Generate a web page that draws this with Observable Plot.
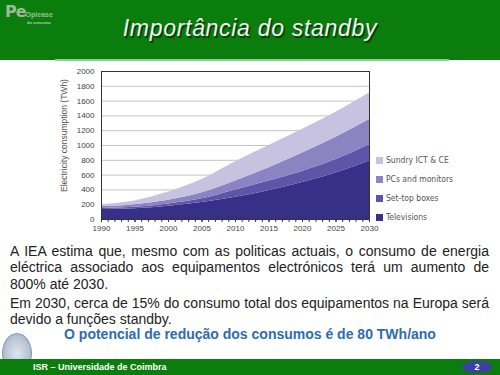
<!DOCTYPE html>
<html><head><meta charset="utf-8">
<script src="https://cdn.jsdelivr.net/npm/d3@7"></script>
<script src="https://cdn.jsdelivr.net/npm/@observablehq/plot@0.6"></script>
<style>
html,body{margin:0;padding:0;}
body{width:500px;height:375px;position:relative;overflow:hidden;background:#fff;font-family:"Liberation Sans",Arial,sans-serif;}
#header{position:absolute;left:0;top:0;width:500px;height:60px;background:#0a7d0c;}
#hline{position:absolute;left:55px;top:59px;width:394px;height:2px;background:#8fcf8f;}
#logo{position:absolute;left:5px;top:4px;color:#9dbb9b;font-weight:bold;line-height:1;}
#logo .big{font-size:16px;font-family:"DejaVu Sans",sans-serif;letter-spacing:-1px;}
#logo .small{font-size:7px;font-family:"Liberation Sans Narrow",sans-serif;}
#logo .tiny{position:absolute;left:22px;top:17px;font-size:4px;color:#b8ceb8;white-space:nowrap;}
#title{position:absolute;left:0;width:500px;top:15px;text-align:center;font-size:23px;font-style:italic;color:#f3f3f3;letter-spacing:0.7px;text-shadow:1.5px 1.5px 1px rgba(0,0,0,0.55);white-space:nowrap;}
#chart{position:absolute;left:55px;top:61px;}
#legend{position:absolute;left:376px;top:0;font-family:"Liberation Sans Narrow","DejaVu Sans Condensed",sans-serif;font-size:8.5px;color:#555;}
.li{position:absolute;left:0;white-space:nowrap;height:10px;line-height:10px;}
.sw{display:inline-block;width:7px;height:7px;vertical-align:-1px;margin-right:3px;}
#text{position:absolute;left:10px;top:243px;width:479px;font-size:14px;line-height:16.3px;color:#222;}
.ln{text-align:justify;text-align-last:justify;white-space:nowrap;}
.ln.last{text-align-last:left;}
.p2{margin-top:3px;}
#blue{position:absolute;left:0;width:500px;top:326px;text-align:center;font-size:14px;font-weight:bold;color:#2b6cb3;white-space:nowrap;}
#footer{position:absolute;left:0;top:359px;width:500px;height:16px;background:#0a7d0c;}
#ftext{position:absolute;left:33px;top:362px;font-size:9px;font-weight:bold;color:#fff;white-space:nowrap;}
#pnum{position:absolute;left:462px;top:361px;width:30px;height:12px;border-radius:50%;background:#3c3fa6;color:#fff;font-size:9px;font-weight:bold;text-align:center;line-height:12px;}
#seal{position:absolute;left:2px;top:333px;width:28px;height:39px;border-radius:50%;background:radial-gradient(ellipse at center,#dfe5ee 0%,#b7c3d6 60%,#8e9db8 100%);border:1px solid #8a98b3;}
</style></head>
<body>
<div id="header"></div>
<div id="hline"></div>
<div id="logo"><span class="big">Pe</span><span class="small">Oplease</span><span class="tiny">do consumo</span></div>
<div id="title">Importância do standby</div>
<div id="chart"></div>
<div id="legend"></div>
<div id="text">
<div class="ln">A IEA estima que, mesmo com as politicas actuais, o consumo de energia</div>
<div class="ln">eléctrica associado aos equipamentos electrónicos terá um aumento de</div>
<div class="ln last">800% até 2030.</div>
<div class="ln p2">Em 2030, cerca de 15% do consumo total dos equipamentos na Europa será</div>
<div class="ln last">devido a funções standby.</div>
</div>
<div id="blue">O potencial de redução dos consumos é de 80 TWh/ano</div>
<div id="seal"></div>
<div id="footer"></div>
<div id="ftext">ISR – Universidade de Coimbra</div>
<div id="pnum">2</div>
<script>
// Data (TWh)
const years        = [1990, 1995, 2000, 2005, 2010, 2015, 2020, 2025, 2030];
const televisions  = [ 135,  145,  180,  230,  300,  390,  500,  630,  790];
const setTopBoxes  = [  15,   20,   30,   50,  100,  130,  150,  180,  220];
const pcsMonitors  = [  25,   35,   50,   80,  120,  180,  250,  300,  340];
const sundryIctCe  = [  25,   50,  110,  180,  260,  300,  320,  340,  360];
const seriesNames  = ["Televisions", "Set-top boxes", "PCs and monitors", "Sundry ICT & CE"];
const seriesColors = ["#372f88", "#5f55a8", "#8c84c2", "#c6c2e0"];
const yTicks       = [0, 200, 400, 600, 800, 1000, 1200, 1400, 1600, 1800, 2000];
const xLabelTicks  = [1990, 1995, 2000, 2005, 2010, 2015, 2020, 2025, 2030];
const xMinorTicks  = d3.range(1990, 2031);
const yLabel       = "Electricity consumption (TWh)";

const seriesValues = [televisions, setTopBoxes, pcsMonitors, sundryIctCe];
const data = years.flatMap((yr, i) => seriesNames.map((name, k) => ({year: yr, category: name, value: seriesValues[k][i]})));

const chart = Plot.plot({
  width: 320, height: 179,
  marginLeft: 46, marginRight: 6, marginTop: 10, marginBottom: 21,
  style: {fontFamily: "'Liberation Sans', Arial, sans-serif", fontSize: "8px", color: "#444", background: "transparent", overflow: "visible"},
  x: {domain: [1990, 2030]},
  y: {domain: [0, 2000]},
  color: {domain: seriesNames, range: seriesColors},
  marks: [
    Plot.gridY(yTicks, {stroke: "#c4c4c4", strokeOpacity: 1, strokeWidth: 1}),
    Plot.areaY(data, {x: "year", y: "value", fill: "category", order: seriesNames, curve: "monotone-x"}),
    Plot.axisY({ticks: yTicks, tickSize: 0, tickPadding: 7, tickFormat: d => String(d), label: null}),
    Plot.axisX({ticks: xMinorTicks, tickSize: 3, tickFormat: () => "", label: null, stroke: "#333"}),
    Plot.axisX({ticks: xLabelTicks, tickSize: 3, tickPadding: 3, tickFormat: d => String(d), label: null, stroke: "#333"}),
    Plot.frame({stroke: "#333"}),
    Plot.text([yLabel], {frameAnchor: "left", rotate: -90, dx: -37, dy: -10, fontSize: 8.5, fill: "#555", textAnchor: "middle"})
  ]
});
document.getElementById("chart").appendChild(chart);

// Legend (top of list = last series)
const legend = document.getElementById("legend");
const legendTops = {"Sundry ICT & CE": 155, "PCs and monitors": 174, "Set-top boxes": 193, "Televisions": 212};
seriesNames.slice().reverse().forEach(name => {
  const k = seriesNames.indexOf(name);
  const d = document.createElement("div");
  d.className = "li";
  d.style.top = legendTops[name] + "px";
  d.innerHTML = `<span class="sw" style="background:${seriesColors[k]}"></span>${name.replace("&", "&amp;")}`;
  legend.appendChild(d);
});
</script>
</body></html>
